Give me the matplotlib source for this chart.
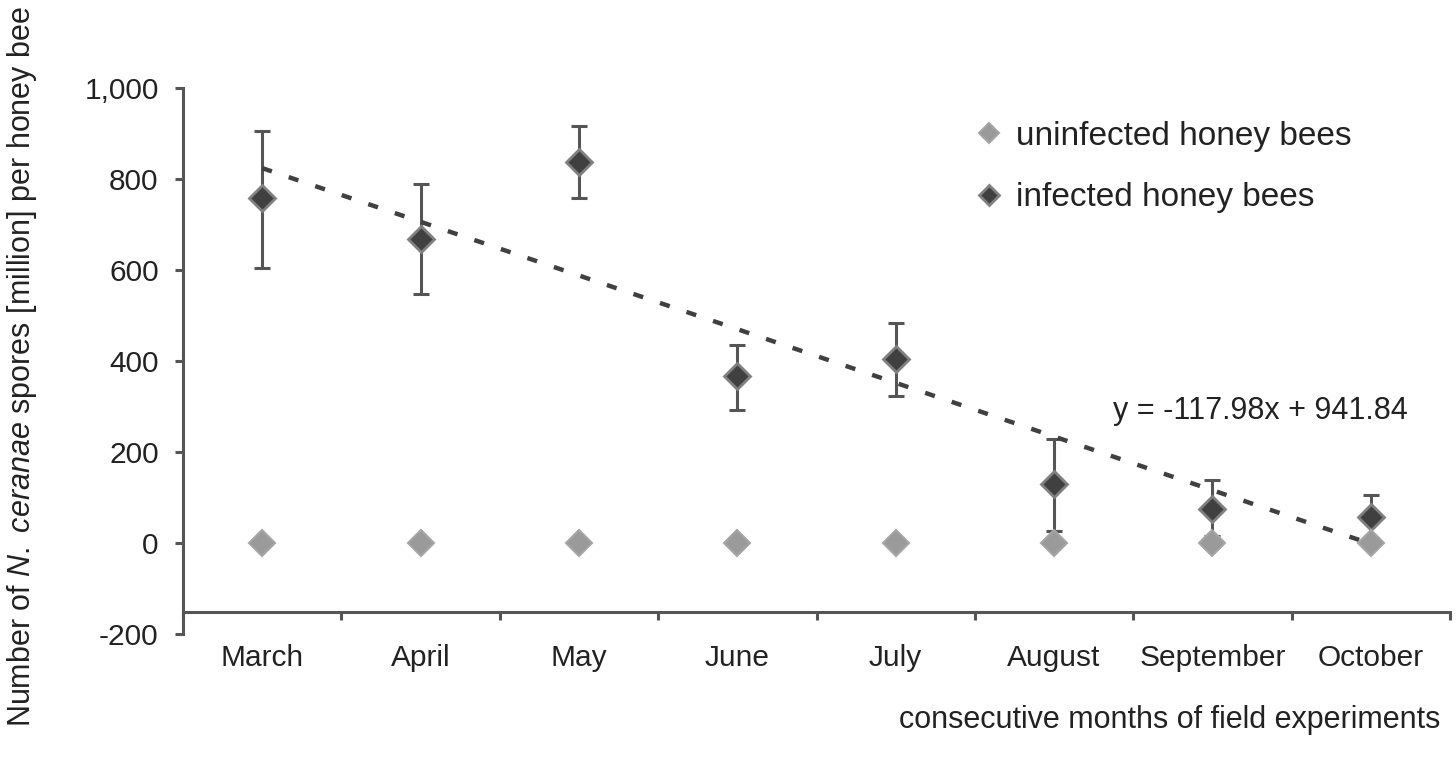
"""
Nosema ceranae spore counts per honey bee over consecutive months.
"""

import matplotlib

matplotlib.use("Agg")
import matplotlib.pyplot as plt
import numpy as np
from matplotlib.ticker import FuncFormatter, FixedLocator

plt.rcParams["font.family"] = ["Liberation Sans", "DejaVu Sans"]
plt.rcParams["mathtext.fontset"] = "custom"
plt.rcParams["mathtext.rm"] = "Liberation Sans"
plt.rcParams["mathtext.it"] = "Liberation Sans:italic"

months = ["March", "April", "May", "June", "July", "August", "September", "October"]
uninfected = [0, 0, 0, 0, 0, 0, 0, 0]
infected = [758, 669, 837, 366, 404, 129, 75, 58]
infected_hi = [905, 790, 917, 435, 483, 228, 138, 105]
infected_lo = [604, 547, 758, 292, 323, 26, 15, 10]
trend_slope = -117.98
trend_intercept = 941.84
yticks = [-200, 0, 200, 400, 600, 800, 1000]

AXIS_COLOR = "#555555"
TEXT_COLOR = "#222222"
FS = 21.5


def main():
    x = np.arange(1, len(months) + 1)
    infected_arr = np.array(infected)
    yerr = [infected_arr - np.array(infected_lo), np.array(infected_hi) - infected_arr]

    fig = plt.figure(figsize=(14.56, 7.63), dpi=100)
    ax = fig.add_axes([0.1257, 0.1691, 0.8702, 0.7156])

    # error bars + infected markers
    ax.errorbar(
        x, infected, yerr=yerr, fmt="none", ecolor=AXIS_COLOR,
        elinewidth=2.2, capsize=6, capthick=2.2, zorder=2,
    )
    trend = trend_slope * x + trend_intercept
    ax.plot(
        x, trend, color="#404040", lw=3.2,
        linestyle=(0, (2.3, 4.0)), zorder=3,
    )
    ax.plot(
        x, infected, "D", ms=13.5, color="#404040", mec="#808080",
        mew=2.0, linestyle="none", zorder=4, label="infected honey bees",
    )
    ax.plot(
        x, uninfected, "D", ms=13.5, color="#9a9a9a", mec="#a5a5a5",
        mew=1.5, linestyle="none", zorder=5, label="uninfected honey bees",
    )

    ax.set_xlim(0.5, len(months) + 0.5)
    ax.set_ylim(-200, 1000)

    for side in ["top", "right"]:
        ax.spines[side].set_visible(False)
    ax.spines["left"].set_color(AXIS_COLOR)
    ax.spines["left"].set_linewidth(2.2)
    ax.spines["bottom"].set_color(AXIS_COLOR)
    ax.spines["bottom"].set_linewidth(2.2)
    ax.spines["bottom"].set_position(("data", -152))

    ax.set_yticks(yticks)
    ax.yaxis.set_major_formatter(FuncFormatter(lambda v, _: f"{v:,.0f}"))
    ax.tick_params(
        axis="y", direction="out", length=5.5, width=2.2, color=AXIS_COLOR,
        labelsize=FS, labelcolor=TEXT_COLOR, pad=12,
    )

    ax.set_xticks(x)
    ax.set_xticklabels(months)
    ax.xaxis.set_minor_locator(FixedLocator(np.arange(0.5, len(months) + 1, 1.0)))
    ax.tick_params(
        axis="x", which="major", length=0, labelsize=FS,
        labelcolor=TEXT_COLOR, pad=23,
    )
    ax.tick_params(
        axis="x", which="minor", direction="out", length=5.5, width=2.2,
        color=AXIS_COLOR,
    )

    ax.text(
        6.37, 290, "y = -117.98x + 941.84", fontsize=22,
        color=TEXT_COLOR, ha="left", va="center",
    )

    handles, labels = ax.get_legend_handles_labels()
    ax.legend(
        handles[::-1], labels[::-1], loc="upper left",
        bbox_to_anchor=(0.594, 0.995), frameon=False, fontsize=24,
        labelcolor=TEXT_COLOR, labelspacing=0.92, handletextpad=0.1,
        handlelength=1.4, markerscale=0.75,
    )

    fig.text(
        0.015, 0.52,
        r"Number of $\mathit{N.\ ceranae}$ spores [million] per honey bee",
        rotation=90, ha="center", va="center", fontsize=22, color=TEXT_COLOR,
    )
    fig.text(
        0.989, 0.057, "consecutive months of field experiments",
        ha="right", va="center", fontsize=22, color=TEXT_COLOR,
    )

    fig.savefig("out.png", dpi=100)


if __name__ == "__main__":
    main()
